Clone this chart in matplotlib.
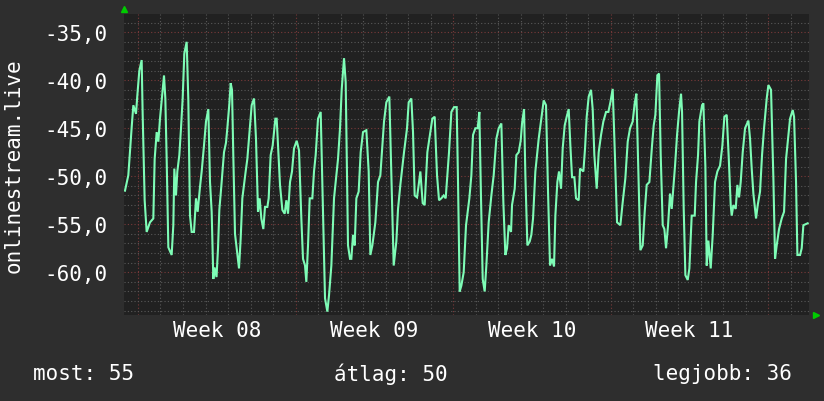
import matplotlib
matplotlib.use("Agg")
import matplotlib.pyplot as plt
from matplotlib.ticker import MultipleLocator, FixedLocator, NullFormatter

# time in days since the start of Week 08, value of the series
days = [
    -0.578, -0.43, -0.281, -0.207, -0.089, -0.03, 0.059, 0.163, 0.207, 0.296, 0.385, 0.533, 0.681,
    0.741, 0.83, 0.904, 0.978, 1.052, 1.156, 1.215, 1.274, 1.348, 1.496, 1.57, 1.615, 1.689, 1.748,
    1.837, 1.911, 1.985, 2.059, 2.163, 2.237, 2.311, 2.385, 2.489, 2.578, 2.652, 2.756, 2.83, 2.933,
    3.022, 3.126, 3.2, 3.274, 3.348, 3.4, 3.49, 3.556, 3.615, 3.704, 3.822, 3.911, 3.97, 4.059, 4.119,
    4.178, 4.237, 4.311, 4.385, 4.489, 4.563, 4.637, 4.785, 4.859, 4.978, 5.052, 5.156, 5.244, 5.333,
    5.407, 5.481, 5.57, 5.644, 5.748, 5.807, 5.896, 5.985, 6.104, 6.163, 6.222, 6.311, 6.415, 6.519,
    6.593, 6.667, 6.756, 6.844, 6.933, 7.052, 7.156, 7.259, 7.333, 7.422, 7.481, 7.556, 7.63, 7.748,
    7.822, 7.896, 8.0, 8.119, 8.222, 8.311, 8.415, 8.489, 8.593, 8.711, 8.889, 8.978, 9.052, 9.156,
    9.23, 9.333, 9.422, 9.481, 9.556, 9.63, 9.704, 9.807, 9.896, 10.0, 10.148, 10.252, 10.326, 10.415,
    10.548, 10.667, 10.77, 10.933, 11.037, 11.17, 11.259, 11.363, 11.481, 11.556, 11.659, 11.822,
    11.956, 12.03, 12.148, 12.222, 12.296, 12.4, 12.474, 12.548, 12.652, 12.74, 12.859, 12.948, 13.081,
    13.185, 13.289, 13.378, 13.481, 13.585, 13.674, 13.822, 13.926, 14.044, 14.163, 14.222, 14.296,
    14.37, 14.474, 14.578, 14.652, 14.726, 14.815, 14.889, 14.993, 15.096, 15.17, 15.244, 15.319,
    15.407, 15.481, 15.585, 15.704, 15.807, 15.926, 16.03, 16.148, 16.237, 16.326, 16.4, 16.474,
    16.578, 16.622, 16.741, 16.815, 16.919, 17.007, 17.067, 17.156, 17.215, 17.304, 17.407, 17.481,
    17.556, 17.659, 17.807, 17.926, 18.03, 18.133, 18.222, 18.311, 18.4, 18.489, 18.548, 18.637,
    18.711, 18.8, 18.874, 18.963, 19.052, 19.141, 19.215, 19.289, 19.393, 19.467, 19.585, 19.644,
    19.793, 19.867, 19.941, 20.03, 20.133, 20.207, 20.281, 20.385, 20.474, 20.578, 20.681, 20.8,
    20.904, 20.993, 21.096, 21.2, 21.289, 21.437, 21.541, 21.659, 21.763, 21.867, 21.985, 22.074,
    22.148, 22.237, 22.326, 22.43, 22.519, 22.607, 22.726, 22.844, 22.919, 22.993, 23.081, 23.156,
    23.23, 23.319, 23.393, 23.467, 23.556, 23.644, 23.719, 23.867, 23.956, 24.044, 24.133, 24.178,
    24.252, 24.326, 24.43, 24.504, 24.548, 24.607, 24.741, 24.8, 24.889, 24.948, 25.067, 25.126,
    25.215, 25.274, 25.348, 25.452, 25.541, 25.644, 25.748, 25.867, 25.97, 26.059, 26.163, 26.252,
    26.341, 26.385, 26.459, 26.563, 26.637, 26.711, 26.785, 26.874, 26.978, 27.126, 27.2, 27.274,
    27.348, 27.467, 27.541, 27.644, 27.733, 27.822, 27.941, 28.015, 28.133, 28.237, 28.311, 28.385,
    28.489, 28.607, 28.711, 28.8, 28.889, 28.978, 29.096, 29.156, 29.244, 29.304, 29.422, 29.496,
    29.57, 29.76,
]
values = [
    -51.5, -49.9, -44.9, -42.6, -43.5, -41.6, -39.0, -37.9, -43.5, -52.5, -55.8, -54.8, -54.4,
    -48.2, -45.4, -46.4, -44.0, -42.1, -39.5, -41.9, -48.2, -57.4, -58.2, -55.1, -49.2, -52.0, -49.5,
    -47.8, -45.0, -41.9, -37.2, -36.0, -42.1, -54.1, -55.8, -55.8, -52.3, -53.7, -51.1, -49.5, -46.8,
    -44.3, -43.0, -50.6, -53.7, -60.7, -59.5, -60.5, -57.5, -53.5, -51.0, -47.5, -46.5, -45.0, -42.5, -40.3,
    -41.0, -48.0, -56.0, -57.5, -59.6, -56.5, -52.3, -49.5, -48.2, -44.7, -42.6, -41.9, -46.1, -53.7,
    -52.3, -54.4, -55.5, -53.2, -53.2, -52.3, -47.8, -46.8, -44.0, -44.0, -46.8, -50.9, -53.5, -53.9,
    -52.5, -53.9, -50.6, -49.5, -47.1, -46.3, -47.3, -54.4, -58.6, -59.3, -61.0, -57.2, -52.3, -52.3,
    -49.5, -47.8, -44.0, -43.3, -53.5, -62.7, -64.1, -62.4, -59.3, -52.3, -48.2, -45.0, -41.0, -37.7,
    -40.2, -57.2, -58.6, -58.6, -56.1, -57.2, -52.3, -51.6, -47.5, -45.4, -45.2, -49.5, -58.2, -57.2,
    -54.8, -50.6, -49.9, -44.3, -42.3, -41.7, -49.9, -59.3, -56.8, -53.4, -50.9, -47.5,
    -45.0, -42.3, -41.9, -45.4, -52.0, -52.2, -50.9, -49.5, -52.8, -53.0, -47.5, -46.1, -44.0,
    -43.8, -49.9, -52.5, -52.3, -52.0, -52.3, -47.5, -43.3, -42.8, -42.8, -50.6, -62.0,
    -61.4, -60.0, -55.1, -53.7, -52.3, -49.9, -45.7, -45.0, -45.0, -43.3, -52.3, -60.7,
    -62.0, -59.3, -54.8, -52.0, -49.9, -46.1, -45.0, -44.5, -52.7, -58.2, -57.5, -55.1,
    -55.8, -53.0, -51.3, -47.8, -47.5, -46.3, -44.5, -43.0, -49.9, -57.2, -56.8, -56.1,
    -54.4, -49.5, -46.1, -44.0, -42.1, -42.6, -51.6, -59.3, -58.6, -59.4, -54.1, -50.6,
    -49.5, -51.3, -47.1, -44.7, -43.8, -43.0, -46.8, -50.1, -50.1, -52.3, -52.5, -49.2,
    -49.5, -47.1, -43.8, -41.7, -41.0, -43.0, -47.8, -51.3, -47.5, -45.7, -44.3, -43.3,
    -43.3, -42.3, -40.9, -48.2, -54.8, -55.1, -52.7, -50.2, -46.4, -45.0, -44.3, -42.4,
    -41.4, -49.5, -57.7, -57.2, -53.7, -50.9, -50.6, -46.8, -44.7, -43.6, -39.5, -39.3,
    -47.8, -55.1, -55.5, -57.5, -55.1, -51.8, -53.4, -48.9, -45.7, -43.3, -41.4, -43.3,
    -53.4, -60.3, -60.8, -59.6, -57.2, -54.1, -54.1, -50.6, -47.8, -44.3, -42.6, -42.4,
    -49.0, -59.3, -56.7, -59.6, -56.1, -50.6, -49.5, -48.9, -46.8, -43.8, -43.6, -48.0,
    -53.0, -54.1, -53.0, -53.4, -50.9, -52.2, -50.6, -47.5, -45.0, -44.2, -46.1, -49.2,
    -51.8, -54.4, -53.0, -51.6, -47.8, -45.0, -41.9, -40.5, -41.0, -50.2, -58.6, -57.2,
    -55.5, -54.4, -53.7, -48.2, -46.1, -44.0, -43.1, -43.8, -50.6, -58.2, -58.2, -57.5,
    -55.1, -54.9,
]

week_labels = ["Week 08", "Week 09", "Week 10", "Week 11"]
week_starts = [0, 7, 14, 21, 28]
y_ticks = [-35, -40, -45, -50, -55, -60]
y_label = "onlinestream.live"
summary = ["most: 55", "átlag: 50", "legjobb: 36"]

BG = "#2e2e2e"
PLOT_BG = "#212121"
LINE = "#7efcb6"
MINOR = "#595959"
MAJOR = "#7a3a3a"
FONT = "DejaVu Sans Mono"

fig = plt.figure(figsize=(8.24, 4.02), dpi=100, facecolor=BG)
ax = fig.add_axes([124 / 824, 1 - 316 / 402, 685 / 824, 301 / 402])
ax.set_facecolor(PLOT_BG)

ax.set_xlim(-0.622, 29.82)
ax.set_ylim(-64.45, -33.1)

# grids
ax.xaxis.set_minor_locator(MultipleLocator(1))
ax.yaxis.set_minor_locator(MultipleLocator(1))
ax.xaxis.set_major_locator(FixedLocator(week_starts))
ax.yaxis.set_major_locator(FixedLocator(y_ticks))
ax.grid(which="minor", color=MINOR, linestyle=(0, (1, 2)), linewidth=0.8)
ax.grid(which="major", color=MAJOR, linestyle=(0, (1, 2)), linewidth=0.8)
ax.set_axisbelow(True)

ax.plot(days, values, color=LINE, linewidth=1.5, solid_joinstyle="miter", zorder=3)

for s in ax.spines.values():
    s.set_visible(False)

ax.xaxis.set_major_formatter(NullFormatter())
ax.tick_params(which="both", length=0)
ax.set_yticklabels([f"{v:.1f}".replace(".", ",") for v in y_ticks],
                   fontfamily=FONT, fontsize=15, color="white")
ax.tick_params(axis="y", pad=12)

for i, lab in enumerate(week_labels):
    mid = (week_starts[i] + week_starts[i + 1]) / 2
    ax.text(mid, -0.05, lab, transform=ax.get_xaxis_transform(), ha="center", va="center",
            fontfamily=FONT, fontsize=15, color="white")

fig.text(14 / 824, 1 - 165.5 / 402, y_label, rotation=90, ha="center", va="center",
         fontfamily=FONT, fontsize=15, color="white")

ys = 1 - 374 / 402
fig.text(33 / 824, ys, summary[0], ha="left", va="center", fontfamily=FONT, fontsize=15, color="white")
fig.text(334 / 824, ys, summary[1], ha="left", va="center", fontfamily=FONT, fontsize=15, color="white")
fig.text(792 / 824, ys, summary[2], ha="right", va="center", fontfamily=FONT, fontsize=15, color="white")

# axis arrows
ax.plot([0], [1 + 5 / 301], marker="^", color="#00cc00", markersize=5, transform=ax.transAxes,
        clip_on=False, linestyle="none")
ax.plot([1 + 7 / 685], [0], marker=">", color="#00cc00", markersize=5, transform=ax.transAxes,
        clip_on=False, linestyle="none")

fig.savefig("out.png", dpi=100, facecolor=BG)
